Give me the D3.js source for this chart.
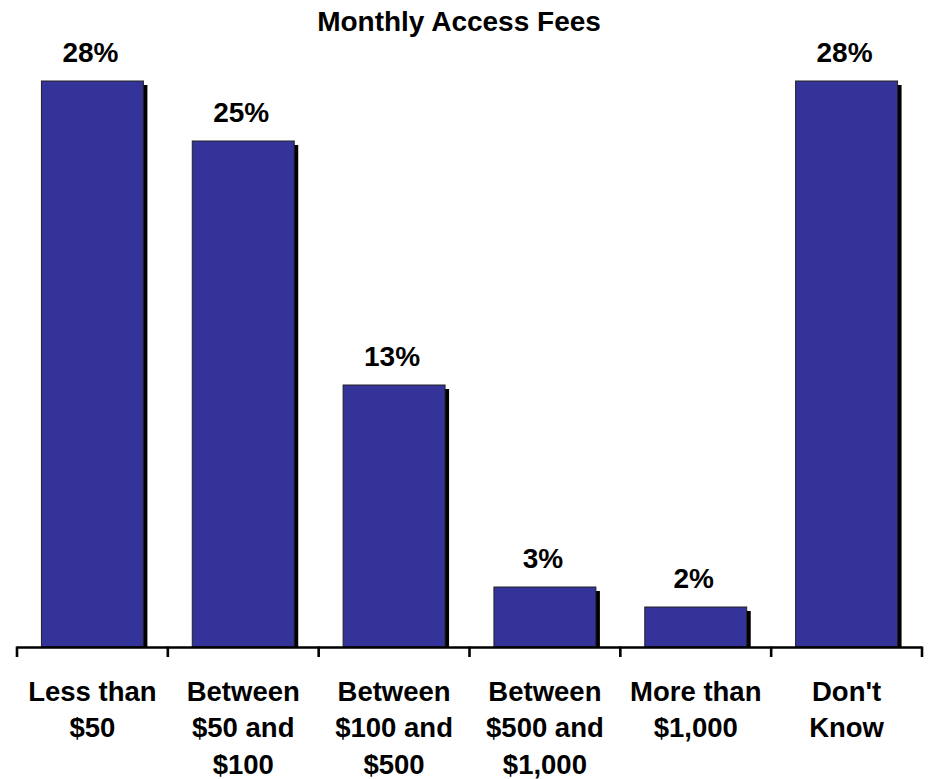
<!DOCTYPE html>
<html>
<head>
<meta charset="utf-8">
<script src="https://cdn.jsdelivr.net/npm/d3@7"></script>
<style>
  html, body { margin: 0; padding: 0; background: #fff; }
  svg { display: block; font-family: "Liberation Sans", Arial, Helvetica, sans-serif; }
</style>
</head>
<body>
<div id="chart"></div>
<script>
const title = "Monthly Access Fees";
const categories = [
  "Less than\n$50",
  "Between\n$50 and\n$100",
  "Between\n$100 and\n$500",
  "Between\n$500 and\n$1,000",
  "More than\n$1,000",
  "Don't\nKnow"
];
const values = [28.3, 25.3, 13.1, 3.0, 2.0, 28.3];
const valueLabels = ["28%", "25%", "13%", "3%", "2%", "28%"];

const width = 928, height = 779;
const svg = d3.select("#chart").append("svg")
  .attr("width", width).attr("height", height);

const x = d3.scaleBand()
  .domain(categories)
  .range([17, 922])
  .paddingInner(0.324)
  .paddingOuter(0.162);

const y = d3.scaleLinear()
  .domain([0, 30])
  .range([647, 47]);

const data = categories.map((c, i) => ({ cat: c, value: values[i], label: valueLabels[i] }));

// title
svg.append("text")
  .attr("x", 459)
  .attr("y", 31)
  .attr("text-anchor", "middle")
  .attr("font-size", 28)
  .attr("font-weight", "bold")
  .attr("fill", "#000")
  .text(title);

const shadowOff = 4;

// shadows
svg.append("g").selectAll("rect")
  .data(data)
  .join("rect")
  .attr("x", d => x(d.cat) + shadowOff)
  .attr("y", d => y(d.value) + shadowOff)
  .attr("width", x.bandwidth())
  .attr("height", d => y(0) - y(d.value) - shadowOff)
  .attr("fill", "#000");

// bars
svg.append("g").selectAll("rect")
  .data(data)
  .join("rect")
  .attr("x", d => x(d.cat))
  .attr("y", d => y(d.value))
  .attr("width", x.bandwidth())
  .attr("height", d => y(0) - y(d.value))
  .attr("fill", "#333399")
  .attr("stroke", "#222")
  .attr("stroke-width", 1);

// value labels
svg.append("g").selectAll("text")
  .data(data)
  .join("text")
  .attr("x", d => x(d.cat) + x.bandwidth() / 2 - 2)
  .attr("y", d => y(d.value) - 19)
  .attr("text-anchor", "middle")
  .attr("font-size", 28)
  .attr("font-weight", "bold")
  .attr("fill", "#000")
  .text(d => d.label);

// axis line and ticks at band boundaries
const axisG = svg.append("g");
const x0 = x.range()[0], x1 = x.range()[1];
axisG.append("line")
  .attr("x1", x0).attr("x2", x1)
  .attr("y1", y(0) + 0.5).attr("y2", y(0) + 0.5)
  .attr("stroke", "#000").attr("stroke-width", 2.6);
const boundaries = categories.map(c => x(c) - x.step() * x.paddingOuter());
boundaries.push(x1);
axisG.selectAll("line.tick")
  .data(boundaries)
  .join("line")
  .attr("class", "tick")
  .attr("x1", d => d).attr("x2", d => d)
  .attr("y1", y(0) - 0.5).attr("y2", y(0) + 10)
  .attr("stroke", "#000").attr("stroke-width", 2.6);

// category labels
const catG = svg.append("g").selectAll("text")
  .data(data)
  .join("text")
  .attr("text-anchor", "middle")
  .attr("font-size", 27.5)
  .attr("font-weight", "bold")
  .attr("fill", "#000");
catG.each(function(d) {
  const t = d3.select(this);
  const lines = d.cat.split("\n");
  lines.forEach((ln, i) => {
    t.append("tspan")
      .attr("x", x(d.cat) + x.bandwidth() / 2)
      .attr("y", 700.5 + i * 36.5)
      .text(ln);
  });
});
</script>
</body>
</html>
